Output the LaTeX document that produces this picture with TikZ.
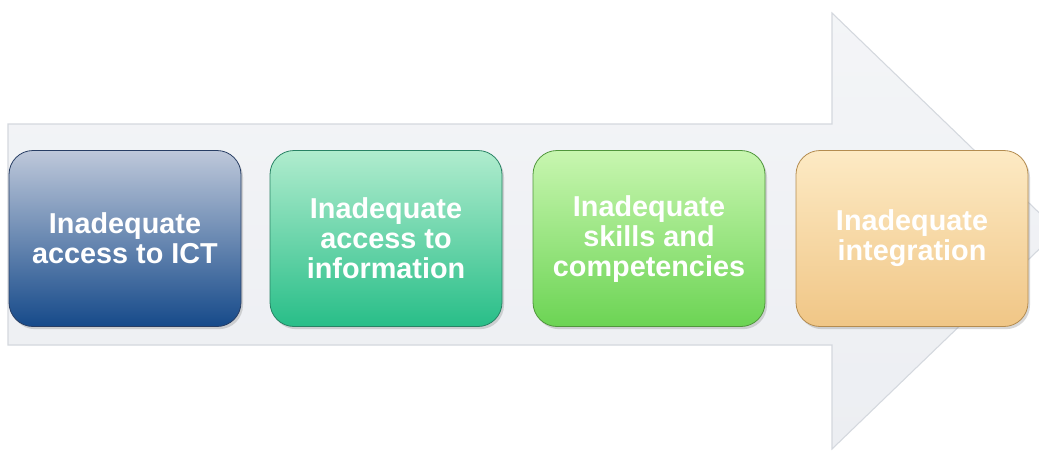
\documentclass[tikz,border=0pt]{standalone}
\usepackage{fontspec}
\setmainfont{Liberation Sans}
\usetikzlibrary{shadows}

\definecolor{arrowfill}{RGB}{236,238,242}
\definecolor{arrowline}{RGB}{212,216,222}
\definecolor{ictline}{RGB}{40,62,100}
\definecolor{ictlight}{RGB}{190,200,218}
\definecolor{ictdark}{RGB}{22,74,138}
\definecolor{infoline}{RGB}{40,130,100}
\definecolor{infolight}{RGB}{176,236,206}
\definecolor{infodark}{RGB}{40,190,136}
\definecolor{skillline}{RGB}{80,150,60}
\definecolor{skilllight}{RGB}{200,246,176}
\definecolor{skilldark}{RGB}{108,212,84}
\definecolor{integline}{RGB}{180,140,80}
\definecolor{integlight}{RGB}{253,234,196}
\definecolor{integdark}{RGB}{240,198,134}
\tikzset{
  stage/.style={rounded corners=18pt, minimum width=174pt, minimum height=132pt,
    draw=#1line, top color=#1light, bottom color=#1dark,
    line width=0.6pt, align=center, text=white,
    font=\bfseries\fontsize{21.6}{22.5}\selectfont,
    drop shadow={shadow xshift=1.5pt, shadow yshift=-2pt, opacity=0.3}},
}

\begin{document}
\begin{tikzpicture}[x=0.75pt,y=0.75pt,yscale=-1,xscale=1]
        \useasboundingbox (0,0) rectangle (1039,450);
        \fill [white] (0,0) rectangle (1039,450);

        %Shape: Right Arrow
        \shade [top color=arrowfill!60!white, bottom color=arrowfill, draw=arrowline, line width=0.8pt]
          (8,124) -- (832,124) -- (832,13) -- (1058,231) -- (832,449) -- (832,345) -- (8,345) -- cycle ;

        %Shape: Stages
        \node [stage=ict] (ict) at (125,238.5) {Inadequate\\access to ICT};
        \node [stage=info] (info) at (386,238.5) {Inadequate\\access to\\information};
        \node [stage=skill, text depth=4pt] (skills) at (649,238.5) {Inadequate\\skills and\\competencies};
        \node [stage=integ] (integ) at (912,238.5) {Inadequate\\integration};

        \end{tikzpicture}
\end{document}
